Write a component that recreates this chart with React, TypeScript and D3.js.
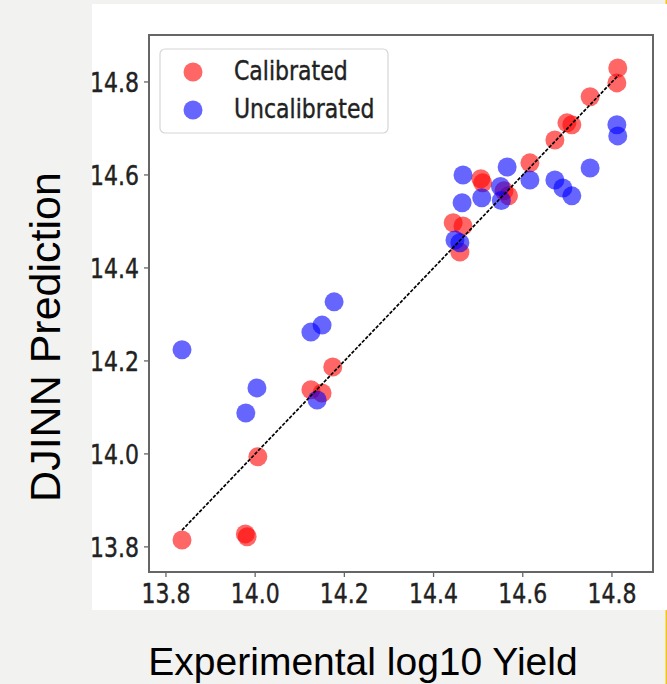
import React from "react";
import * as d3 from "d3";

const xTicks = [13.8, 14.0, 14.2, 14.4, 14.6, 14.8];
const yTicks = [13.8, 14.0, 14.2, 14.4, 14.6, 14.8];

const calibratedX = [13.836, 13.978, 13.982, 14.006, 14.125, 14.15, 14.174, 14.444, 14.466, 14.459, 14.506, 14.51, 14.558, 14.568, 14.616, 14.672, 14.699, 14.71, 14.751, 14.811, 14.813];
const calibratedY = [13.815, 13.828, 13.822, 13.994, 14.138, 14.131, 14.187, 14.497, 14.49, 14.434, 14.592, 14.583, 14.566, 14.555, 14.626, 14.675, 14.712, 14.708, 14.768, 14.798, 14.83];

const uncalibratedX = [13.836, 13.979, 14.004, 14.125, 14.15, 14.177, 14.139, 14.448, 14.459, 14.464, 14.466, 14.508, 14.55, 14.552, 14.565, 14.616, 14.672, 14.69, 14.71, 14.751, 14.811, 14.813];
const uncalibratedY = [14.224, 14.088, 14.142, 14.262, 14.277, 14.327, 14.116, 14.46, 14.454, 14.54, 14.6, 14.551, 14.575, 14.545, 14.617, 14.589, 14.589, 14.572, 14.555, 14.615, 14.708, 14.684];

const seriesNames = ["Calibrated", "Uncalibrated"];
const seriesColors = ["#ff0000", "#0000ff"];
const identityRange = [13.836, 14.815];

const W = 667;
const H = 684;

export default function App() {
  const x = d3.scaleLinear().domain([13.762, 14.892]).range([149, 653]);
  const y = d3.scaleLinear().domain([13.746, 14.901]).range([572, 35]);
  const fmt = d3.format(".1f");
  const tickFont = "'DejaVu Sans', sans-serif";
  const labelFont = "'Liberation Sans', Arial, sans-serif";
  const r = 9.5;
  const fs = 22;
  const sy = 1.24;
  const line = d3
    .line<number>()
    .x((d) => x(d))
    .y((d) => y(d));

  const cal = calibratedX.map((v, i) => [v, calibratedY[i]]);
  const unc = uncalibratedX.map((v, i) => [v, uncalibratedY[i]]);
  const textStyle = {
    fontFamily: tickFont,
    fontSize: fs,
    fill: "#222",
    stroke: "#222",
    strokeWidth: 0.35,
  } as any;

  return (
    <svg
      width={W}
      height={H}
      style={{ position: "absolute", left: 0, top: 0 }}
      xmlns="http://www.w3.org/2000/svg"
    >
      <defs>
        <clipPath id="panelClip">
          <rect x={92} y={4} width={575} height={606} />
        </clipPath>
      </defs>
      <rect x={0} y={0} width={W} height={H} fill="#f2f2f0" />
      <rect x={665.5} y={0} width={1.5} height={H} fill="#f5c518" />
      <rect x={92} y={4} width={575} height={606} fill="#ffffff" />

      <g clipPath="url(#panelClip)">
        {cal.map((d, i) => (
          <circle key={"c" + i} cx={x(d[0])} cy={y(d[1])} r={r} fill={seriesColors[0]} fillOpacity={0.6} />
        ))}
        {unc.map((d, i) => (
          <circle key={"u" + i} cx={x(d[0])} cy={y(d[1])} r={r} fill={seriesColors[1]} fillOpacity={0.6} />
        ))}
        <path
          d={line(identityRange) || ""}
          stroke="#000"
          strokeWidth={1.7}
          strokeDasharray="3.5,1.5"
          fill="none"
        />
        <rect x={149} y={35} width={504} height={537} fill="none" stroke="#666" strokeWidth={2} />
        {xTicks.map((t) => (
          <g key={"xt" + t}>
            <line x1={x(t)} x2={x(t)} y1={572} y2={577} stroke="#666" strokeWidth={1.3} />
            <g transform={`translate(${x(t)}, 603) scale(1, ${sy})`}>
              <text x={0} y={0} textAnchor="middle" {...textStyle}>
                {fmt(t)}
              </text>
            </g>
          </g>
        ))}
        {yTicks.map((t) => (
          <g key={"yt" + t}>
            <line x1={144} x2={149} y1={y(t)} y2={y(t)} stroke="#666" strokeWidth={1.3} />
            <g transform={`translate(139, ${y(t)}) scale(1, ${sy})`}>
              <text x={0} y={(0.729 * fs) / 2} textAnchor="end" {...textStyle}>
                {fmt(t)}
              </text>
            </g>
          </g>
        ))}
        <rect x={160} y={49} width={228} height={84} rx={5} fill="#fff" fillOpacity={0.8} stroke="#d6d6d6" strokeWidth={1.2} />
        {seriesNames.map((n, i) => (
          <g key={n}>
            <circle cx={193} cy={72 + i * 38} r={r} fill={seriesColors[i]} fillOpacity={0.6} />
            <g transform={`translate(234, ${80 + i * 37.5}) scale(1, ${sy})`}>
              <text x={0} y={0} {...textStyle}>
                {n}
              </text>
            </g>
          </g>
        ))}
      </g>

      <text
        x={363}
        y={675}
        textAnchor="middle"
        fontFamily={labelFont}
        fontSize={39}
        fill="#000"
      >
        Experimental log10 Yield
      </text>
      <text
        transform={`translate(60, 337) rotate(-90)`}
        textAnchor="middle"
        fontFamily={labelFont}
        fontSize={43}
        fill="#000"
      >
        DJINN Prediction
      </text>
    </svg>
  );
}
